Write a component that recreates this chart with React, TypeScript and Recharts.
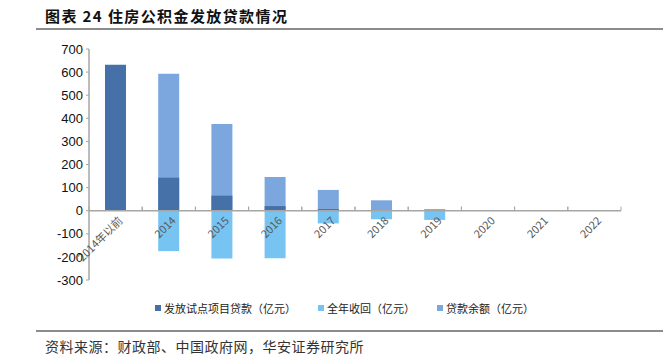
import { Bar, BarChart, CartesianGrid, ReferenceLine, XAxis, YAxis } from "recharts";

const categories = ["2014年以前", "2014", "2015", "2016", "2017", "2018", "2019", "2020", "2021", "2022"];
const issued = [632, 143, 65, 20, 7, 2, 1, 0, 0, 0];
const recovered = [0, -175, -207, -206, -55, -37, -40, 0, 0, 0];
const balance = [null, 593, 375, 146, 90, 45, 7, 2, 1, 0];
const yTicks = [700, 600, 500, 400, 300, 200, 100, 0, -100, -200, -300];

const seriesNames = ["发放试点项目贷款（亿元）", "全年收回（亿元）", "贷款余额（亿元）"];
const seriesColors = ["#4571a8", "#77c4f3", "#7ba7de"];

const data = categories.map((name, i) => ({
  name,
  issued: issued[i],
  recovered: recovered[i],
  balance: balance[i],
}));

const W = 663;
const H = 359;
const TOP = 49;
const BOTTOM = 280;
const LEFT = 89;
const RIGHT = 621;
const Y_MAX = 700;
const Y_MIN = -300;
const zeroY = TOP + ((BOTTOM - TOP) * Y_MAX) / (Y_MAX - Y_MIN);
const band = (RIGHT - LEFT) / categories.length;

const CJK = '"Noto Sans CJK SC", "Liberation Sans", sans-serif';

function XTick(props: any) {
  const { x, payload } = props;
  return (
    <g>
      <line x1={x - band / 2} x2={x - band / 2} y1={zeroY - 4} y2={zeroY} stroke="#a6a6a6" strokeWidth={1} />
      <line x1={x + band / 2} x2={x + band / 2} y1={zeroY - 4} y2={zeroY} stroke="#a6a6a6" strokeWidth={1} />
      <text
        x={x + 5}
        y={zeroY + 8}
        transform={`rotate(-45, ${x + 5}, ${zeroY + 8})`}
        textAnchor="end"
        dy="0.35em"
        fontSize={11}
        fill="#595959"
        fontFamily={CJK}
      >
        {payload.value}
      </text>
    </g>
  );
}

export default function App() {
  return (
    <div style={{ position: "absolute", left: 0, top: 0, width: W, height: H, background: "#fff", fontFamily: CJK }}>
      <div
        style={{
          position: "absolute",
          left: 45,
          top: 5,
          fontSize: 15,
          fontWeight: 700,
          color: "#111",
          whiteSpace: "nowrap",
          letterSpacing: 1.4,
        }}
      >
        图表 24 住房公积金发放贷款情况
      </div>
      <div style={{ position: "absolute", left: 36, right: 0, top: 28, height: 2, background: "#8c8c8c" }} />

      <div style={{ position: "absolute", left: 0, top: 0 }}>
        <BarChart
          width={W}
          height={H}
          data={data}
          margin={{ top: TOP, right: W - RIGHT, bottom: H - BOTTOM - 30, left: 0 }}
          barSize={21}
          barGap={-21}
        >
          <CartesianGrid stroke="none" />
          <XAxis dataKey="name" height={30} axisLine={false} tickLine={false} tick={<XTick />} interval={0} />
          <YAxis
            width={LEFT}
            domain={[Y_MIN, Y_MAX]}
            ticks={yTicks}
            interval={0}
            tickSize={3}
            tickMargin={3}
            axisLine={{ stroke: "#a6a6a6", strokeWidth: 1.5 }}
            tickLine={{ stroke: "#a6a6a6" }}
            tick={{ fill: "#111", fontSize: 13, fontFamily: '"Liberation Sans", Arial, sans-serif' }}
          />
          <Bar dataKey="balance" name={seriesNames[2]} fill={seriesColors[2]} isAnimationActive={false} />
          <Bar dataKey="issued" name={seriesNames[0]} fill={seriesColors[0]} isAnimationActive={false} />
          <Bar dataKey="recovered" name={seriesNames[1]} fill={seriesColors[1]} isAnimationActive={false} />
          <ReferenceLine y={0} stroke="#a6a6a6" strokeWidth={1.5} />
        </BarChart>
      </div>

      <div style={{ position: "absolute", top: 300, left: 0, width: W, height: 14 }}>
        {seriesNames.map((n, i) => (
          <div
            key={n}
            style={{
              position: "absolute",
              left: [155, 318, 437][i],
              top: 0,
              display: "flex",
              alignItems: "center",
              fontSize: 11,
              color: "#222",
              whiteSpace: "nowrap",
            }}
          >
            <span style={{ width: 6, height: 6, background: seriesColors[i], marginRight: 3, display: "inline-block" }} />
            {n}
          </div>
        ))}
      </div>

      <div style={{ position: "absolute", left: 36, right: 0, top: 330, height: 2, background: "#8c8c8c" }} />
      <div
        style={{
          position: "absolute",
          left: 45,
          top: 336,
          fontSize: 14,
          color: "#333",
          whiteSpace: "nowrap",
          letterSpacing: 0.5,
        }}
      >
        资料来源：财政部、中国政府网，华安证券研究所
      </div>
    </div>
  );
}
